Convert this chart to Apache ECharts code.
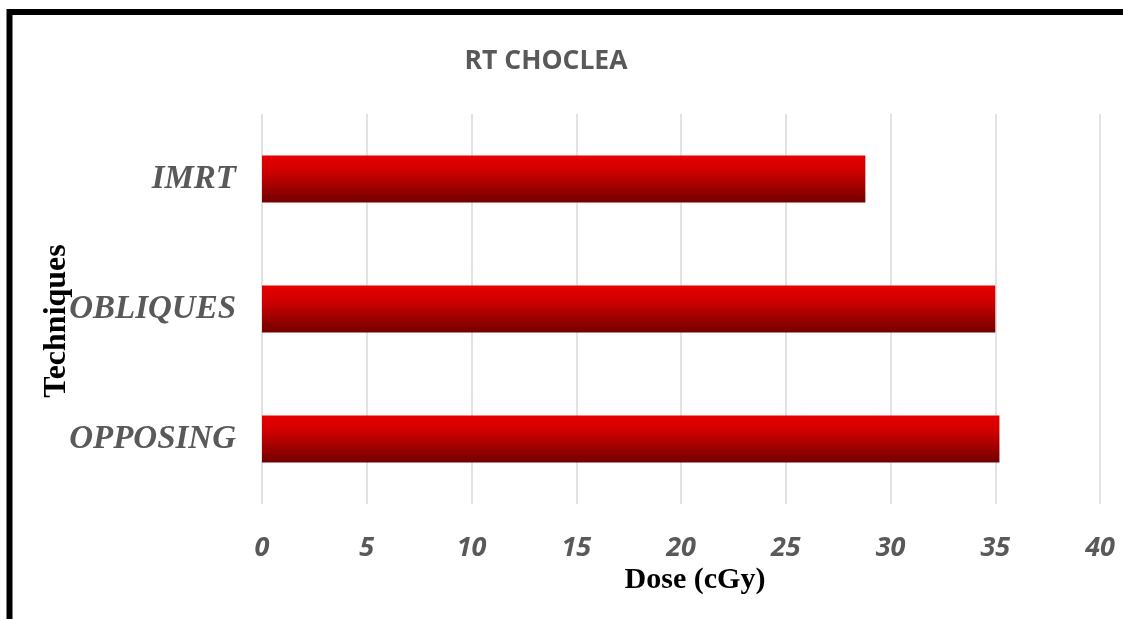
<!DOCTYPE html>
<html>
<head>
<meta charset="utf-8">
<script src="https://cdn.jsdelivr.net/npm/echarts@6/dist/echarts.min.js"></script>
<style>
html,body{margin:0;padding:0;background:#fff;}
#chart{width:1123px;height:619px;}
</style>
</head>
<body>
<div id="chart"></div>
<script>
const categories = ['OPPOSING', 'OBLIQUES', 'IMRT'];
const doseValues = [35.2, 35.0, 28.8];
const xTicks = [0, 5, 10, 15, 20, 25, 30, 35, 40];

const chart = echarts.init(document.getElementById('chart'));
chart.setOption({
  animation: false,
  backgroundColor: '#ffffff',
  title: {
    text: 'RT CHOCLEA',
    left: 541,
    textAlign: 'center',
    top: 43,
    textStyle: {fontFamily: 'Open Sans', fontWeight: 'bold', fontSize: 26.5, color: '#595959'}
  },
  graphic: [{
    type: 'rect',
    shape: {x: 9.5, y: 12, width: 1300, height: 800},
    style: {fill: 'none', stroke: '#000', lineWidth: 6},
    silent: true
  }],
  grid: {left: 262, right: 23, top: 114, bottom: 115, containLabel: false},
  xAxis: {
    type: 'value',
    min: xTicks[0],
    max: xTicks[xTicks.length - 1],
    interval: 5,
    name: 'Dose (cGy)',
    nameLocation: 'middle',
    nameGap: 61,
    nameMoveOverlap: false,
    nameTextStyle: {fontFamily: 'Liberation Serif', fontWeight: 'bold', fontSize: 30, color: '#000', padding: [0, 0, 0, 28]},
    axisLine: {show: false},
    axisTick: {show: false},
    axisLabel: {margin: 31, fontFamily: 'Open Sans', fontWeight: 'bold', fontStyle: 'italic', fontSize: 27, color: '#595959'},
    splitLine: {lineStyle: {color: '#d9d9d9', width: 1.5}}
  },
  yAxis: {
    type: 'category',
    data: categories,
    name: 'Techniques',
    nameLocation: 'middle',
    nameGap: 189,
    nameMoveOverlap: false,
    nameTextStyle: {fontFamily: 'Liberation Serif', fontWeight: 'bold', fontSize: 32, color: '#000', padding: [0, 24, 0, 0]},
    axisLine: {show: false},
    axisTick: {show: false},
    axisLabel: {margin: 26, fontFamily: 'Liberation Serif', fontWeight: 'bold', fontStyle: 'italic', fontSize: 33, color: '#595959'}
  },
  series: [{
    type: 'bar',
    data: doseValues,
    barWidth: '36%',
    itemStyle: {
      color: new echarts.graphic.LinearGradient(0, 0, 0, 1, [
        {offset: 0, color: '#e60000'},
        {offset: 0.3, color: '#d30000'},
        {offset: 1, color: '#730000'}
      ])
    }
  }]
});
</script>
</body>
</html>
